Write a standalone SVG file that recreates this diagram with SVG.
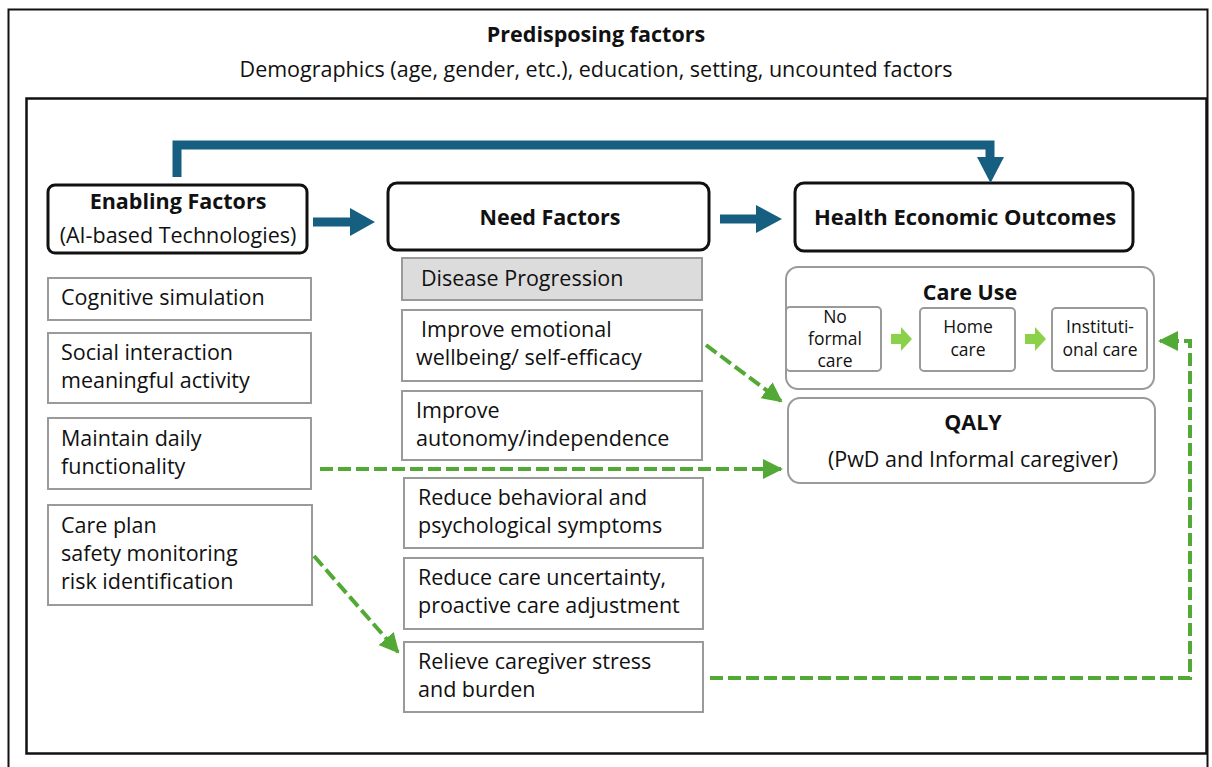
<svg xmlns="http://www.w3.org/2000/svg" width="1212" height="767" viewBox="0 0 1212 767">
<defs>
<style>
text{font-family:"Open Sans","Liberation Sans",Arial,sans-serif;fill:#111;}
.t{font-size:21.5px;}
.b{font-size:21.5px;font-weight:bold;}
.s{font-size:17.5px;}
.c{text-anchor:middle;}
.gbox{fill:#fff;stroke:#9a9a9a;stroke-width:2;}
.hbox{fill:#fff;stroke:#111;stroke-width:3;}
.rbox{fill:#fff;stroke:#9a9a9a;stroke-width:2;}
.blue{fill:none;stroke:#175f80;stroke-width:9;}
.dash{fill:none;stroke:#52a935;stroke-width:4;stroke-dasharray:13 5;}
</style>
<marker id="ga" viewBox="0 0 10 10" refX="9" refY="5" markerWidth="5" markerHeight="5" markerUnits="strokeWidth" orient="auto">
<path d="M0,0 L10,5 L0,10 z" fill="#52a935"/>
</marker>
</defs>
<rect width="1212" height="767" fill="#fff"/>
<rect x="8.5" y="9.5" width="1199" height="770" fill="none" stroke="#111" stroke-width="2"/>
<rect x="26.5" y="98.5" width="1180" height="655" fill="none" stroke="#111" stroke-width="2.5"/>

<g id="predisposing">
<text class="b c" x="596" y="42">Predisposing factors</text>
<text class="t c" x="596" y="77">Demographics (age, gender, etc.), education, setting, uncounted factors</text>
</g>

<g id="enabling">
<rect class="hbox" x="48" y="185" width="259" height="68" rx="7"/>
<text class="b c" x="178" y="209">Enabling Factors</text>
<text class="t c" x="178" y="243">(AI-based Technologies)</text>
</g>
<g id="need">
<rect class="hbox" x="388" y="183" width="321" height="67" rx="9"/>
<text class="b c" x="550" y="225">Need Factors</text>
</g>
<g id="outcomes">
<rect class="hbox" x="795" y="183" width="338" height="68" rx="9"/>
<text class="b c" x="965" y="225" style="font-size:22px">Health Economic Outcomes</text>
</g>

<g id="e1"><rect class="gbox" x="48" y="278" width="263" height="42"/><text class="t" x="61" y="305">Cognitive simulation</text></g>
<g id="e2"><rect class="gbox" x="48" y="333" width="263" height="70"/><text class="t" x="61" y="360">Social interaction</text><text class="t" x="61" y="388">meaningful activity</text></g>
<g id="e3"><rect class="gbox" x="48" y="418" width="263" height="71"/><text class="t" x="61" y="446">Maintain daily</text><text class="t" x="61" y="474">functionality</text></g>
<g id="e4"><rect class="gbox" x="48" y="505" width="264" height="100"/><text class="t" x="61" y="533">Care plan</text><text class="t" x="61" y="561">safety monitoring</text><text class="t" x="61" y="589">risk identification</text></g>

<g id="n1"><rect x="402" y="258" width="300" height="42" fill="#dcdcdc" stroke="#9a9a9a" stroke-width="2"/><text class="t" x="421" y="286">Disease Progression</text></g>
<g id="n2"><rect class="gbox" x="402" y="310" width="300" height="71"/><text class="t" x="421" y="337">Improve emotional</text><text class="t" x="416" y="365">wellbeing/ self-efficacy</text></g>
<g id="n3"><rect class="gbox" x="402" y="391" width="300" height="69"/><text class="t" x="416" y="418">Improve</text><text class="t" x="416" y="446">autonomy/independence</text></g>
<g id="n4"><rect class="gbox" x="404" y="478" width="299" height="70"/><text class="t" x="418" y="505">Reduce behavioral and</text><text class="t" x="418" y="533">psychological symptoms</text></g>
<g id="n5"><rect class="gbox" x="404" y="558" width="299" height="71"/><text class="t" x="418" y="585">Reduce care uncertainty,</text><text class="t" x="418" y="613">proactive care adjustment</text></g>
<g id="n6"><rect class="gbox" x="404" y="642" width="299" height="70"/><text class="t" x="418" y="669">Relieve caregiver stress</text><text class="t" x="418" y="697">and burden</text></g>

<g id="careuse">
<rect class="rbox" x="786" y="267" width="368" height="122" rx="12"/>
<text class="b c" x="970" y="300">Care Use</text>
<rect class="rbox" x="786" y="307" width="95" height="64" rx="4"/>
<text class="s c" x="835" y="323">No</text><text class="s c" x="835" y="345">formal</text><text class="s c" x="835" y="367">care</text>
<rect class="rbox" x="920" y="308" width="95" height="63" rx="4"/>
<text class="s c" x="968" y="333">Home</text><text class="s c" x="968" y="356">care</text>
<rect class="rbox" x="1052" y="308" width="95" height="63" rx="4"/>
<text class="s c" x="1100" y="333">Instituti-</text><text class="s c" x="1100" y="356">onal care</text>
<path d="M891,334 H901 V327 L912,339 L901,351 V344 H891 z" fill="#8cd14a"/>
<path d="M1025,334 H1035 V327 L1046,339 L1035,351 V344 H1025 z" fill="#8cd14a"/>
</g>
<g id="qaly">
<rect class="rbox" x="788" y="398" width="367" height="85" rx="12"/>
<text class="b c" x="973" y="430">QALY</text>
<text class="t c" x="973" y="467">(PwD and Informal caregiver)</text>
</g>

<g id="connectors">
<path class="blue" d="M177,177 V145 H990 V160"/>
<path d="M977,157 L1004,157 L990.5,183 z" fill="#175f80"/>
<path d="M313,222 H352" stroke="#175f80" stroke-width="9" fill="none"/>
<path d="M350,208 L375,222 L350,236 z" fill="#175f80"/>
<path d="M720,219 H758" stroke="#175f80" stroke-width="9" fill="none"/>
<path d="M756,205 L782,219 L756,233 z" fill="#175f80"/>
<path class="dash" d="M706,345 L781,401" marker-end="url(#ga)"/>
<path class="dash" d="M320,469 L781,469" marker-end="url(#ga)"/>
<path class="dash" d="M314,556 L398,652" marker-end="url(#ga)"/>
<path class="dash" d="M710,678 H1190 V341 H1160" marker-end="url(#ga)"/>
</g>
</svg>
